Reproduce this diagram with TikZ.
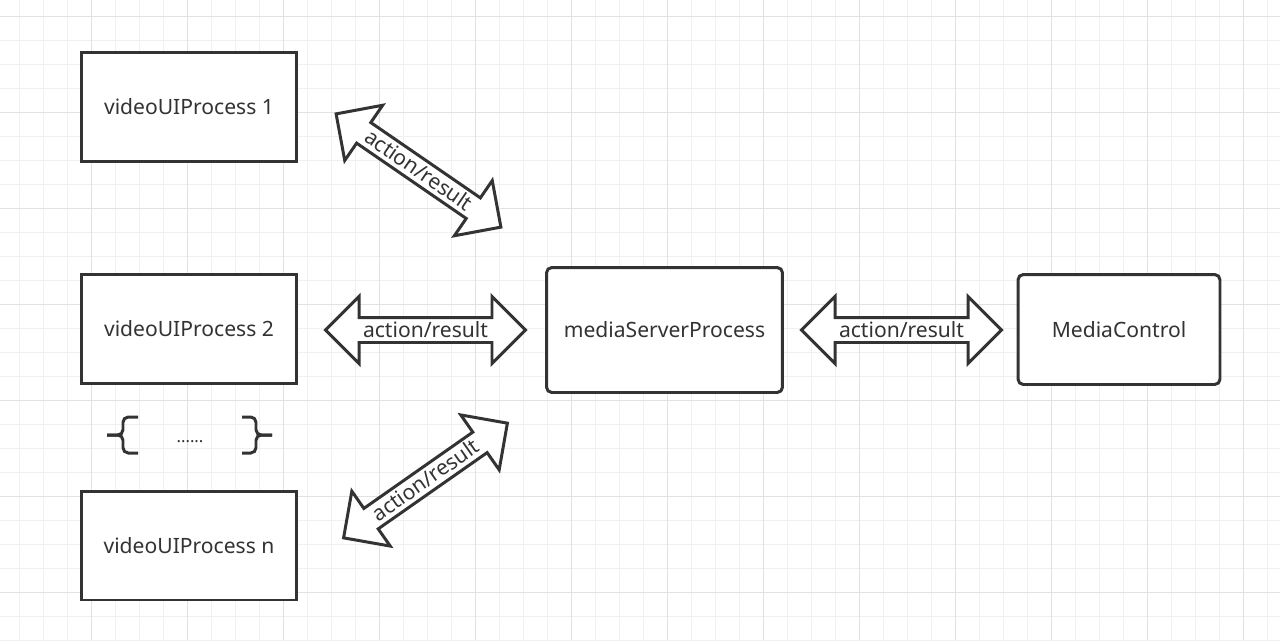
\documentclass[tikz,border=0pt]{standalone}
\usepackage{fontspec}
\setmainfont{Noto Sans}
\usepackage{tikz}
\usetikzlibrary{positioning, shapes.arrows}
\definecolor{ink}{HTML}{333333}
\definecolor{minorgrid}{HTML}{F0F0F0}
\definecolor{majorgrid}{HTML}{E2E2E2}

\tikzset{
  box/.style={draw=ink, line width=1.7pt, fill=white, text=ink,
    minimum width=4.3cm, minimum height=2.18cm,
    font=\fontsize{12}{14}\selectfont},
  roundbox/.style={box, rounded corners=3pt},
  dualarrow/.style={double arrow, draw=ink, line width=1.7pt, fill=white,
    text=ink, minimum height=4cm, double arrow head extend=0.42cm,
    text height=0.33cm, text depth=0.05cm, inner ysep=0.03cm, inner xsep=0pt,
    font=\fontsize{12}{14}\selectfont},
  brace/.style={draw=ink, line width=1.7pt, rounded corners=3pt}
}

\begin{document}
\begin{tikzpicture}[x=0.02cm, y=-0.02cm]
\useasboundingbox (0,0) rectangle (1280,640);
\fill[white] (0,0) rectangle (1280,640);

% grid
\foreach \gx in {0,...,52}
  \draw[minorgrid, line width=0.57pt] ({19.3+24*\gx},0) -- ({19.3+24*\gx},640);
\foreach \gy in {0,...,26}
  \draw[minorgrid, line width=0.57pt] (0,{16+24*\gy}) -- (1280,{16+24*\gy});
\foreach \gx in {0,...,12}
  \draw[majorgrid, line width=0.57pt] ({91.3+96*\gx},0) -- ({91.3+96*\gx},640);
\foreach \gy in {0,...,6}
  \draw[majorgrid, line width=0.57pt] (0,{16+96*\gy}) -- (1280,{16+96*\gy});

% processes
\node[box] (v1) at (189,107) {videoUIProcess 1};
\node[box] (v2) at (189,329) {videoUIProcess 2};
\node[box] (vn) at (189,545.5) {videoUIProcess n};
\node[roundbox, minimum width=4.72cm, minimum height=2.5cm] (server) at (664.5,330) {mediaServerProcess};
\node[roundbox, minimum width=4.04cm, minimum height=2.2cm] (control) at (1119,329.5) {MediaControl};

% block arrows
\node[dualarrow, rotate=-34.5] (a1) at (418.5,170.5) {action/result};
\node[dualarrow] (a2) at (425.5,330) {action/result};
\node[dualarrow, rotate=35] (a3) at (425.5,480.5) {action/result};
\node[dualarrow] (a4) at (901.5,330) {action/result};

% the ... between v2 and vn
\node[text=ink, font=\fontsize{9.5}{11}\selectfont] (dots) at (190,442) {......};
\draw[brace] (138,417) -- (123,417) -- (123,435) -- (107,435);
\draw[brace] (138,453) -- (123,453) -- (123,435) -- (107,435);
\draw[brace] (242,417) -- (256,417) -- (256,435) -- (272,435);
\draw[brace] (242,453) -- (256,453) -- (256,435) -- (272,435);
\end{tikzpicture}
\end{document}
